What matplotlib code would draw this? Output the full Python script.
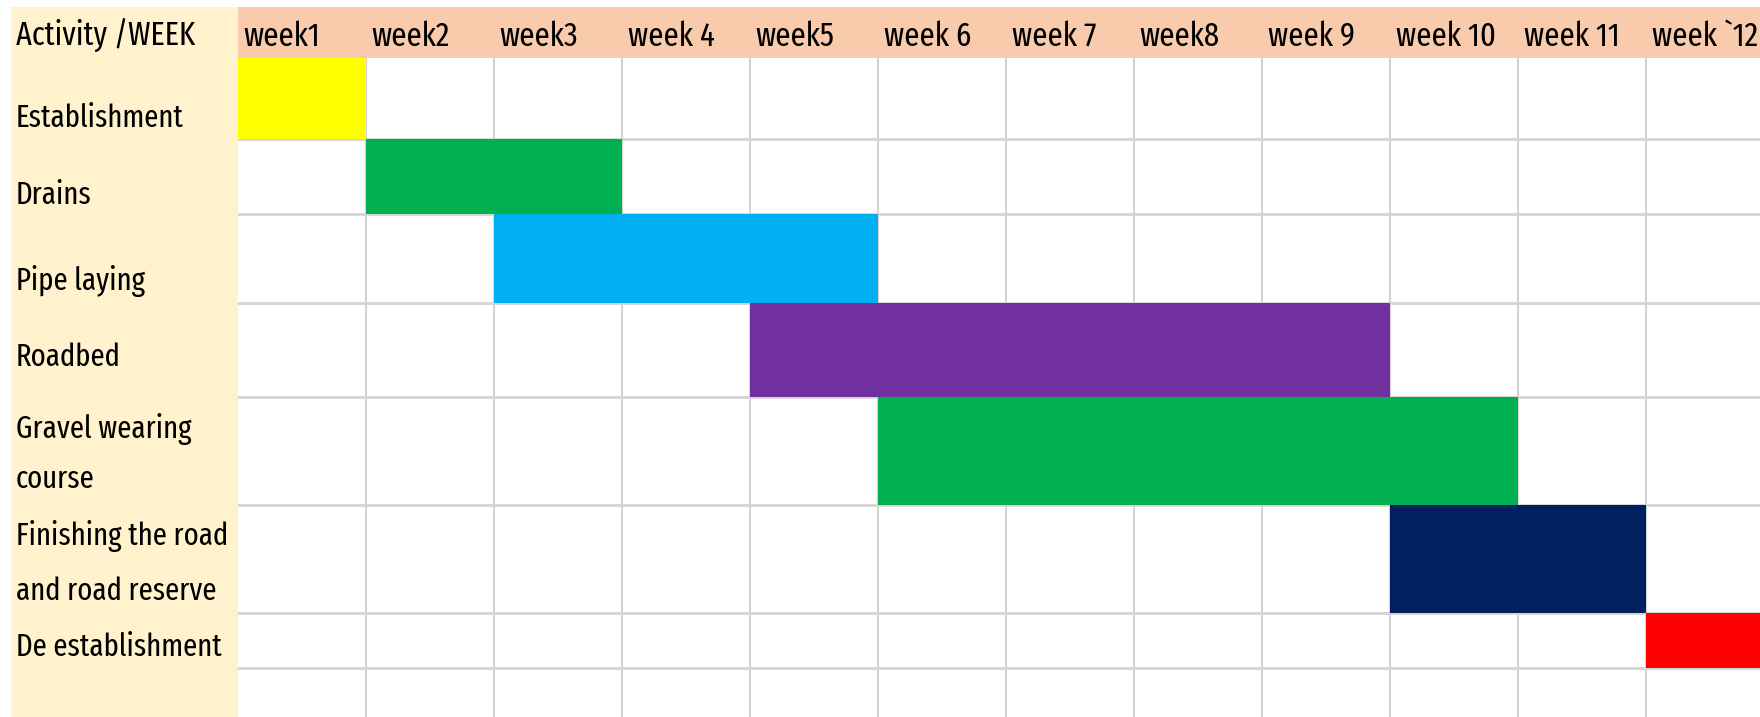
#!/usr/bin/env python3
"""Weekly programme of road works drawn as a spreadsheet-style Gantt chart."""
import matplotlib

matplotlib.use("Agg")
import matplotlib.pyplot as plt
from matplotlib import font_manager as fm
from matplotlib.patches import Rectangle

# data
activities = ["Establishment", "Drains", "Pipe laying", "Roadbed",
              "Gravel wearing\ncourse", "Finishing the road\nand road reserve",
              "De establishment"]
start_week = [0, 1, 2, 4, 5, 9, 11]
duration_weeks = [1, 2, 3, 5, 5, 2, 1]
bar_colors = ["#FFFF00", "#00B050", "#00B0F0", "#7030A0", "#00B050",
              "#002060", "#FF0000"]
week_labels = ["week1", "week2", "week3", "week 4", "week5", "week 6",
               "week 7", "week8", "week 9", "week 10", "week 11", "week `12"]
corner_label = "Activity /WEEK"

# layout (pixels of the 1760x717 canvas)
W, H = 1760, 717
LEFT_X0, GRID_X0 = 11, 237.5
COL_W = 128
HEAD_Y0, HEAD_Y1 = 6.5, 58
ROW_EDGES = [58, 139, 214, 303, 397, 505, 613, 668, 717]
# baseline of every text line in each row
LINE_BASES = [[127], [204], [290], [366], [438, 488], [545, 600], [656]]

PEACH = "#F8CBAD"
CREAM = "#FFF2CC"
GRID = "#D4D4D4"

installed = {f.name for f in fm.fontManager.ttflist}
FONT = [n for n in ["Fira Sans Extra Condensed", "Sofia Sans Condensed",
                    "Fira Sans Condensed", "DejaVu Sans"] if n in installed]
FS_HEAD = 24
FS_ROW = 22.5

fig = plt.figure(figsize=(W / 100, H / 100), dpi=100)
fig.patch.set_facecolor("white")

# background layer in pixel units
bg = fig.add_axes([0, 0, 1, 1])
bg.set_xlim(0, W)
bg.set_ylim(H, 0)
bg.axis("off")
bg.add_patch(Rectangle((LEFT_X0, HEAD_Y0), GRID_X0 - LEFT_X0, H - HEAD_Y0,
                       facecolor=CREAM, edgecolor="none"))
bg.add_patch(Rectangle((GRID_X0, HEAD_Y0), W - GRID_X0, HEAD_Y1 - HEAD_Y0,
                       facecolor=PEACH, edgecolor="none"))
bg.text(16, 46, corner_label, fontsize=FS_HEAD - 0.5, family=FONT,
        ha="left", va="baseline", color="black")
for i, lab in enumerate(week_labels):
    bg.text(GRID_X0 + i * COL_W + 6, 46, lab, fontsize=FS_HEAD, family=FONT,
            ha="left", va="baseline", color="black")
for name, bases in zip(activities, LINE_BASES):
    for line, yb in zip(name.split("\n"), bases):
        bg.text(16, yb, line, fontsize=FS_ROW, family=FONT,
                ha="left", va="baseline", color="black")

# gantt grid in week units
n_weeks_visible = (W - GRID_X0) / COL_W
ax = fig.add_axes([GRID_X0 / W, 0, 1 - GRID_X0 / W, (H - HEAD_Y1) / H])
ax.set_xlim(0, n_weeks_visible)
ax.set_ylim(H, HEAD_Y1)
ax.set_facecolor("none")
for s in ax.spines.values():
    s.set_visible(False)
ax.set_xticks([])
ax.set_yticks([])

for k in range(1, len(week_labels)):
    ax.axvline(k, color=GRID, lw=1.5, zorder=1)
for y in ROW_EDGES[1:-1]:
    ax.axhline(y, color=GRID, lw=2, zorder=1)

centers = [(a + b) / 2 for a, b in zip(ROW_EDGES[:-2], ROW_EDGES[1:-1])]
heights = [b - a for a, b in zip(ROW_EDGES[:-2], ROW_EDGES[1:-1])]
ax.barh(centers, duration_weeks, left=start_week, height=heights,
        color=bar_colors, edgecolor="none", zorder=2)

fig.savefig("out.png", dpi=100, facecolor="white")
